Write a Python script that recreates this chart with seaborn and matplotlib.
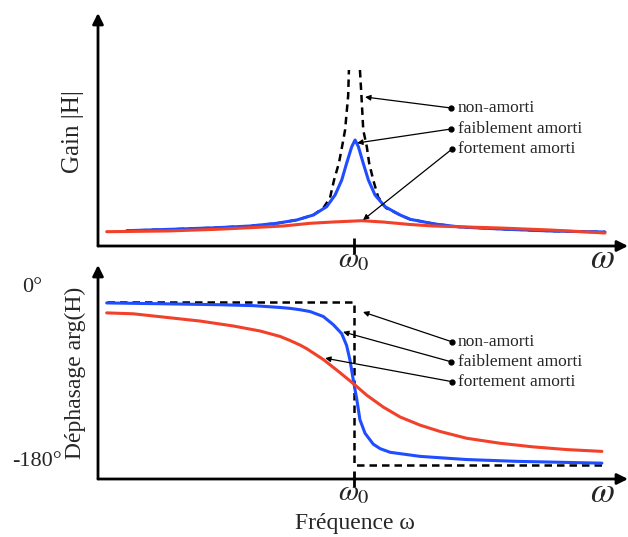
import numpy as np
import pandas as pd
import matplotlib
matplotlib.use("Agg")
import matplotlib.pyplot as plt
import seaborn as sns

# ---------------- data (x in units of omega/omega0) ----------------
# Gain |H|
gain_weak_w = [0.112, 0.320, 0.464, 0.594, 0.698, 0.776, 0.841, 0.893, 0.926, 0.952,
               0.971, 0.991, 1.004, 1.017, 1.036, 1.056, 1.082, 1.121, 1.180, 1.219,
               1.316, 1.414, 1.570, 1.766, 1.980]
gain_weak = [0.153, 0.17, 0.183, 0.20, 0.227, 0.26, 0.31, 0.393, 0.51, 0.66,
             0.827, 0.993, 1.06, 0.993, 0.827, 0.66, 0.51, 0.393, 0.31, 0.267,
             0.22, 0.19, 0.17, 0.15, 0.14]

gain_strong_w = [0.034, 0.268, 0.464, 0.594, 0.723, 0.828, 0.918, 1.030, 1.113, 1.219,
                 1.309, 1.570, 1.766, 1.980]
gain_strong = [0.143, 0.15, 0.167, 0.183, 0.20, 0.227, 0.24, 0.253, 0.24, 0.215,
               0.20, 0.18, 0.16, 0.13]

gain_undamped_left_w = [0.112, 0.320, 0.464, 0.594, 0.698, 0.776, 0.841, 0.880, 0.906,
                        0.922, 0.941, 0.953, 0.965, 0.977, 0.980]
gain_undamped_left = [0.153, 0.17, 0.183, 0.20, 0.227, 0.26, 0.31, 0.38, 0.48,
                      0.66, 0.83, 0.99, 1.16, 1.50, 1.76]
gain_undamped_right_w = [1.023, 1.029, 1.036, 1.050, 1.059, 1.075, 1.094, 1.125, 1.180,
                         1.219, 1.316, 1.414, 1.570, 1.766, 1.980]
gain_undamped_right = [1.76, 1.50, 1.16, 0.99, 0.83, 0.66, 0.49, 0.38, 0.31,
                       0.267, 0.22, 0.19, 0.17, 0.15, 0.14]

# Phase arg(H) in degrees
phase_weak_w = [0.034, 0.268, 0.477, 0.607, 0.711, 0.750, 0.789, 0.828, 0.880, 0.919,
                0.952, 0.971, 0.984, 0.997, 1.011, 1.023, 1.043, 1.075, 1.102, 1.141,
                1.258, 1.309, 1.440, 1.636, 1.968]
phase_weak = [-1, -2, -3, -4, -6, -7, -8.5, -10.5, -16, -25,
              -35, -48, -64, -86, -108, -130, -145, -157, -162, -166,
              -170.5, -171.5, -174, -176, -178]

phase_strong_w = [0.034, 0.138, 0.268, 0.398, 0.529, 0.633, 0.711, 0.750, 0.789, 0.815,
                  0.880, 0.945, 1.001, 1.050, 1.114, 1.180, 1.258, 1.336, 1.440, 1.570,
                  1.699, 1.831, 1.968]
phase_strong = [-12, -13, -17, -21, -26.5, -32, -38, -42.5, -47.5, -51.5,
                 -63.5, -78, -91, -103, -116, -127, -136, -143, -150.5, -156,
                 -160, -163, -165]

phase_undamped_w = [0.034, 1.0, 1.0, 1.968]
phase_undamped = [0, 0, -180, -180]

curve_labels = ["non-amorti", "faiblement amorti", "fortement amorti"]

BLUE = "#1f4dff"
RED = "#f2412a"

# ---------------- figure ----------------
sns.set_theme(style="white")
plt.rcParams["font.family"] = ["Liberation Serif", "DejaVu Serif"]
plt.rcParams["mathtext.fontset"] = "stix"

fig = plt.figure(figsize=(6.28, 5.37), dpi=100)
W, H = 628, 537
ax1 = fig.add_axes([98 / W, (H - 246) / H, (628 - 98) / W, 233 / H])
ax2 = fig.add_axes([98 / W, (H - 479) / H, (628 - 98) / W, 214 / H])

dash = (0, (3, 2))

# top panel
df_ul = pd.DataFrame({"w": gain_undamped_left_w, "g": gain_undamped_left})
df_ur = pd.DataFrame({"w": gain_undamped_right_w, "g": gain_undamped_right})
df_gw = pd.DataFrame({"w": gain_weak_w, "g": gain_weak})
df_gs = pd.DataFrame({"w": gain_strong_w, "g": gain_strong})
for d in (df_ul, df_ur):
    sns.lineplot(data=d, x="w", y="g", ax=ax1, color="black", lw=1.8,
                 linestyle=dash, estimator=None, sort=False)
sns.lineplot(data=df_gw, x="w", y="g", ax=ax1, color=BLUE, lw=2.2,
             estimator=None, sort=False)
sns.lineplot(data=df_gs, x="w", y="g", ax=ax1, color=RED, lw=2.2,
             estimator=None, sort=False)
ax1.set_xlim(0, 2.07)
ax1.set_ylim(0, 2.33)

# bottom panel
df_pu = pd.DataFrame({"w": phase_undamped_w, "p": phase_undamped})
df_pw = pd.DataFrame({"w": phase_weak_w, "p": phase_weak})
df_ps = pd.DataFrame({"w": phase_strong_w, "p": phase_strong})
sns.lineplot(data=df_pu, x="w", y="p", ax=ax2, color="black", lw=1.8,
             linestyle=dash, estimator=None, sort=False)
sns.lineplot(data=df_pw, x="w", y="p", ax=ax2, color=BLUE, lw=2.2,
             estimator=None, sort=False)
sns.lineplot(data=df_ps, x="w", y="p", ax=ax2, color=RED, lw=2.2,
             estimator=None, sort=False)
ax2.set_xlim(0, 2.07)
ax2.set_ylim(-195.5, 40.9)

for ax in (ax1, ax2):
    for s in ax.spines.values():
        s.set_visible(False)
    ax.patch.set_alpha(0)
    ax.set_xlabel("")
    ax.set_ylabel("")
    ax.set_yticks([])
    ax.set_xticks([1.0])
    ax.set_xticklabels([r"$\omega_0$"], fontsize=21)
    ax.tick_params(axis="x", direction="inout", length=12, width=2,
                   color="black", pad=-5, bottom=True)
    ax.annotate("", xy=(1.0, 0), xytext=(0, 0), xycoords="axes fraction",
                arrowprops=dict(arrowstyle="-|>", color="black", lw=2,
                                mutation_scale=16, shrinkA=0, shrinkB=0),
                annotation_clip=False)
    ax.annotate("", xy=(0, 1.0), xytext=(0, 0), xycoords="axes fraction",
                arrowprops=dict(arrowstyle="-|>", color="black", lw=2,
                                mutation_scale=16, shrinkA=0, shrinkB=0),
                annotation_clip=False)

# annotations
top_dots = [(1.379, 1.38), (1.379, 1.17), (1.383, 0.97)]
top_heads = [(1.043, 1.49), (1.012, 1.03), (1.035, 0.26)]
bot_dots = [(1.383, -44), (1.379, -66), (1.383, -88)]
bot_heads = [(1.035, -11), (0.957, -33), (0.887, -62)]
for ax, dots, heads in ((ax1, top_dots, top_heads), (ax2, bot_dots, bot_heads)):
    for lab, d, h in zip(curve_labels, dots, heads):
        ax.annotate("", xy=h, xytext=d,
                    arrowprops=dict(arrowstyle="-|>", color="black", lw=0.9,
                                    mutation_scale=8, shrinkA=0, shrinkB=0))
        ax.plot([d[0]], [d[1]], "o", color="black", ms=3.5)
        ax.text(1.406, d[1], lab, ha="left", va="center", fontsize=12.5)

# free labels
fig.text(73 / W, 1 - 132 / H, "Gain |H|", rotation=90, ha="center", va="center",
         fontsize=18)
fig.text(75 / W, 1 - 373 / H, "Déphasage arg(H)", rotation=90, ha="center",
         va="center", fontsize=17)
fig.text(32 / W, 1 - 287 / H, "0°", ha="center", va="center", fontsize=16)
fig.text(37 / W, 1 - 462 / H, "-180°", ha="center", va="center", fontsize=16)
fig.text(355 / W, 1 - 523 / H, "Fréquence ω", ha="center", va="center", fontsize=17)
fig.text(602 / W, 1 - 260 / H, r"$\omega$", ha="center", va="center", fontsize=25)
fig.text(602 / W, 1 - 493 / H, r"$\omega$", ha="center", va="center", fontsize=25)

fig.savefig("out.png", dpi=100)
